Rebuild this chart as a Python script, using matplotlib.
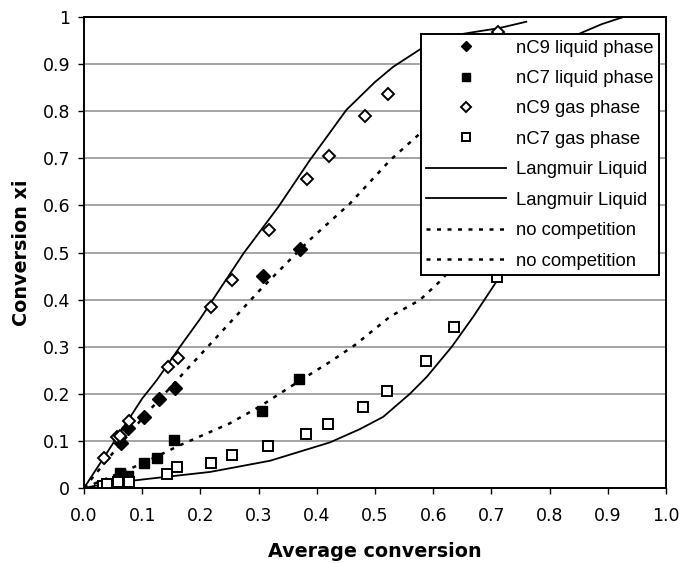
import matplotlib
matplotlib.use("Agg")
import matplotlib.pyplot as plt
from matplotlib.ticker import FixedLocator

plt.rcParams['font.family'] = ['Liberation Sans', 'DejaVu Sans']

# measured points
nc9_liq_x = [0.063, 0.075, 0.103, 0.128, 0.157, 0.308, 0.371]
nc9_liq_y = [0.095, 0.127, 0.151, 0.189, 0.213, 0.450, 0.508]

nc7_liq_x = [0.061, 0.075, 0.103, 0.125, 0.155, 0.306, 0.370]
nc7_liq_y = [0.032, 0.025, 0.054, 0.064, 0.102, 0.163, 0.231]

nc9_gas_x = [0.034, 0.056, 0.062, 0.078, 0.145, 0.162, 0.219, 0.254, 0.318,
             0.384, 0.421, 0.482, 0.522, 0.712]
nc9_gas_y = [0.064, 0.108, 0.111, 0.143, 0.256, 0.275, 0.384, 0.441, 0.548,
             0.655, 0.704, 0.790, 0.836, 0.969]

nc7_gas_x = [0.032, 0.039, 0.059, 0.078, 0.142, 0.159, 0.219, 0.254, 0.316,
             0.381, 0.420, 0.480, 0.521, 0.587, 0.636, 0.709]
nc7_gas_y = [0.004, 0.008, 0.013, 0.013, 0.029, 0.044, 0.053, 0.071, 0.089,
             0.115, 0.136, 0.173, 0.206, 0.270, 0.341, 0.449]

# model curves
lang9_x = [0.0, 0.05, 0.10, 0.125, 0.165, 0.20, 0.274, 0.334, 0.388, 0.451,
           0.50, 0.531, 0.577, 0.61, 0.64, 0.68, 0.712, 0.76]
lang9_y = [0.0, 0.095, 0.19, 0.229, 0.30, 0.36, 0.498, 0.597, 0.696, 0.803,
           0.862, 0.894, 0.931, 0.950, 0.962, 0.970, 0.976, 0.990]

lang7_x = [0.0, 0.033, 0.10, 0.165, 0.216, 0.251, 0.32, 0.423, 0.474, 0.514,
           0.56, 0.589, 0.632, 0.669, 0.715, 0.75, 0.80, 0.852, 0.89, 0.927]
lang7_y = [0.0, 0.008, 0.018, 0.027, 0.034, 0.042, 0.058, 0.097, 0.125, 0.151,
           0.200, 0.236, 0.300, 0.364, 0.450, 0.570, 0.780, 0.965, 0.985, 1.0]

nocomp9_x = [0.0, 0.05, 0.108, 0.165, 0.25, 0.302, 0.388, 0.457, 0.526, 0.574,
             0.65, 0.70]
nocomp9_y = [0.0, 0.075, 0.159, 0.236, 0.35, 0.42, 0.527, 0.604, 0.696, 0.749,
             0.83, 0.88]

nocomp7_x = [0.0, 0.05, 0.10, 0.165, 0.25, 0.302, 0.371, 0.423, 0.466, 0.526,
             0.577, 0.617, 0.66, 0.70]
nocomp7_y = [0.0, 0.026, 0.052, 0.091, 0.137, 0.173, 0.228, 0.268, 0.304, 0.364,
             0.399, 0.445, 0.52, 0.60]

xticks = [0.0, 0.1, 0.2, 0.3, 0.4, 0.5, 0.6, 0.7, 0.8, 0.9, 1.0]
xtick_labels = ['0.0', '0.1', '0.2', '0.3', '0.4', '0.5', '0.6', '0.7', '0.8', '0.9', '1.0']
yticks = [0.0, 0.1, 0.2, 0.3, 0.4, 0.5, 0.6, 0.7, 0.8, 0.9, 1.0]
ytick_labels = ['0', '0.1', '0.2', '0.3', '0.4', '0.5', '0.6', '0.7', '0.8', '0.9', '1']

fig = plt.figure(figsize=(6.82, 5.63), dpi=100)
ax = fig.add_axes([0.1232, 0.1332, 0.8533, 0.8366])

dots = (0, (1.6, 2.6))
h5, = ax.plot(lang9_x, lang9_y, color='black', lw=1.3)
h6, = ax.plot(lang7_x, lang7_y, color='black', lw=1.3)
h7, = ax.plot(nocomp9_x, nocomp9_y, color='black', lw=1.8, linestyle=dots)
h8, = ax.plot(nocomp7_x, nocomp7_y, color='black', lw=1.8, linestyle=dots)

h1, = ax.plot(nc9_liq_x, nc9_liq_y, 'D', color='black', ms=7, ls='none')
h2, = ax.plot(nc7_liq_x, nc7_liq_y, 's', color='black', ms=7.5, ls='none')
h3, = ax.plot(nc9_gas_x, nc9_gas_y, 'D', mfc='white', mec='black', mew=1.4, ms=6.5, ls='none')
h4, = ax.plot(nc7_gas_x, nc7_gas_y, 's', mfc='white', mec='black', mew=1.4, ms=7, ls='none')

ax.set_xlim(0, 1)
ax.set_ylim(0, 1)
ax.xaxis.set_major_locator(FixedLocator(xticks))
ax.set_xticklabels(xtick_labels, fontsize=12.5, family='DejaVu Sans')
ax.yaxis.set_major_locator(FixedLocator(yticks))
ax.set_yticklabels(ytick_labels, fontsize=12.5, family='DejaVu Sans')
ax.tick_params(direction='out', length=4, width=1, color='black')
ax.tick_params(axis='y', pad=6)
ax.tick_params(axis='x', pad=10)
ax.yaxis.grid(True, color='#8c8c8c', lw=1.1)
ax.set_axisbelow(True)
for s in ax.spines.values():
    s.set_linewidth(1.4)
    s.set_color('black')

ax.set_xlabel('Average conversion', fontsize=13.8, fontweight='bold',
              family='DejaVu Sans', labelpad=12)
ax.set_ylabel('Conversion xi', fontsize=13.8, fontweight='bold',
              family='DejaVu Sans', labelpad=8)

leg = ax.legend([h1, h2, h3, h4, h5, h6, h7, h8],
                ['nC9 liquid phase', 'nC7 liquid phase', 'nC9 gas phase', 'nC7 gas phase',
                 'Langmuir Liquid', 'Langmuir Liquid', 'no competition', 'no competition'],
                loc='upper right', bbox_to_anchor=(0.988, 0.964), fontsize=13.3,
                frameon=True, fancybox=False, framealpha=1, edgecolor='black',
                handlelength=4.3, handletextpad=0.55, labelspacing=0.73,
                borderpad=0.3, borderaxespad=0, markerscale=0.8)
leg.get_frame().set_linewidth(1.4)
leg.set_zorder(5)

fig.savefig('out.png', dpi=100)
